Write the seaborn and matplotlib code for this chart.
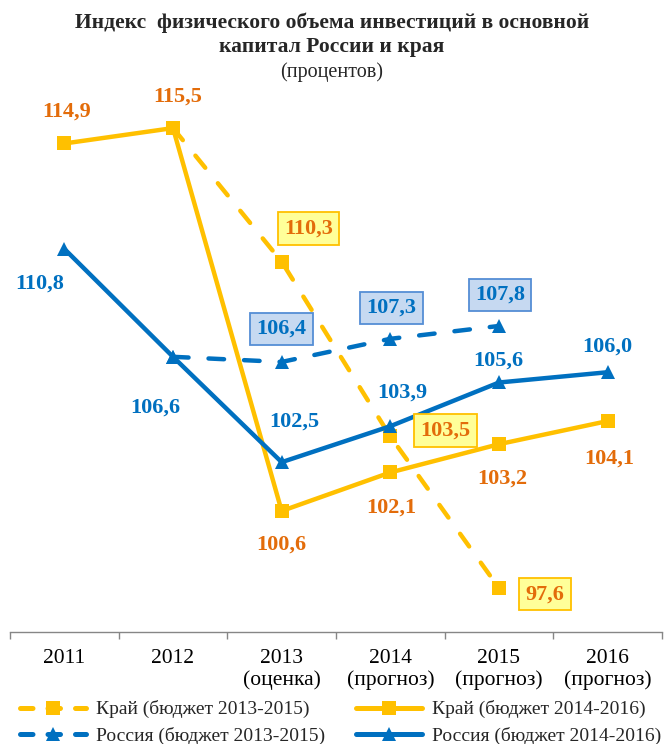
import numpy as np
import pandas as pd
import matplotlib
matplotlib.use('Agg')
import matplotlib.pyplot as plt
import seaborn as sns
from matplotlib.lines import Line2D

years = ['2011', '2012', '2013\n(оценка)', '2014\n(прогноз)', '2015\n(прогноз)', '2016\n(прогноз)']

kray_1416 = [114.9, 115.5, 100.6, 102.1, 103.2, 104.1]
kray_1315 = [np.nan, 115.5, 110.3, 103.5, 97.6, np.nan]
russia_1416 = [110.8, 106.6, 102.5, 103.9, 105.6, 106.0]
russia_1315 = [np.nan, 106.6, 106.4, 107.3, 107.8, np.nan]

YELLOW = '#FFC000'
BLUE = '#0070C0'
ORANGE_TXT = '#E36C0A'

sns.set_style('white')
plt.rcParams['font.family'] = ['Liberation Serif', 'DejaVu Serif']

df = pd.DataFrame({'x': range(len(years)),
                   'kray_1416': kray_1416, 'kray_1315': kray_1315,
                   'russia_1416': russia_1416, 'russia_1315': russia_1315})

fig = plt.figure(figsize=(6.64, 7.44), dpi=100)
# axes in pixel terms: x 10..662, y 80..632 (from top)
W, H = 664, 744
ax = fig.add_axes([10 / W, (H - 632) / H, 652 / W, 552 / H])

# scale: 25.7 px per unit, 100.6 at y=511
ppu = 25.7
ymin = 100.6 - (632 - 511) / ppu
ymax = 100.6 + (511 - 80) / ppu

DASH = (3.5, 4.5)
series = [
    ('kray_1315', YELLOW, 's', True),
    ('russia_1315', BLUE, '^', True),
    ('kray_1416', YELLOW, 's', False),
    ('russia_1416', BLUE, '^', False),
]
for col, color, mk, dashed in series:
    d = df.dropna(subset=[col])
    kw = dict(dashes=DASH, dash_capstyle='round') if dashed else dict(solid_capstyle='butt')
    sns.lineplot(data=d, x='x', y=col, ax=ax, color=color, marker=mk,
                 markersize=10, markeredgewidth=0, linewidth=3.2, **kw)

ax.set_xlim(-0.5, len(years) - 0.5)
ax.set_ylim(ymin, ymax)
ax.set_xlabel('')
ax.set_ylabel('')
ax.set_yticks([])
ax.set_xticks(range(len(years)))
ax.set_xticklabels(years, fontsize=15.5, color='black', linespacing=1.2)
ax.set_xticks(np.arange(-0.5, len(years)), minor=True)
ax.tick_params(axis='x', which='major', length=0, pad=12)
ax.tick_params(axis='x', which='minor', length=5, width=1, color='#868686', direction='out', bottom=True)
for s in ['top', 'left', 'right']:
    ax.spines[s].set_visible(False)
ax.spines['bottom'].set_color('#868686')
ax.spines['bottom'].set_linewidth(1)

px = 0.72
ybox = dict(boxstyle='square,pad=0.28', fc='#FFFF99', ec=YELLOW, lw=1.3)
bbox = dict(boxstyle='square,pad=0.28', fc='#C6D9F1', ec='#558ED5', lw=1.3)

def lab(i, v, dx, dy, color, box=None):
    ax.annotate(f'{v:.1f}'.replace('.', ','), (i, v), xytext=(dx * px, dy * px),
                textcoords='offset points', ha='center', va='center',
                fontsize=16, fontweight='bold', color=color, bbox=box)

kray_off = [(2, 32), (5, 31), (0, -34), (1, -35), (3, -34), (2, -38)]
for i, (v, o) in enumerate(zip(kray_1416, kray_off)):
    lab(i, v, o[0], o[1], ORANGE_TXT)
kray13_off = {2: (27, 33), 3: (55, 6), 4: (46, -6)}
for i, o in kray13_off.items():
    lab(i, kray_1315[i], o[0], o[1], ORANGE_TXT, ybox)
rus_off = [(-25, -35), (-18, -51), (13, 41), (12, 34), (-1, 22), (0, 26)]
for i, (v, o) in enumerate(zip(russia_1416, rus_off)):
    lab(i, v, o[0], o[1], BLUE)
rus13_off = {2: (0, 33), 3: (1, 31), 4: (1, 31)}
for i, o in rus13_off.items():
    lab(i, russia_1315[i], o[0], o[1], BLUE, bbox)

fig.text(0.5, 1 - 23 / H, 'Индекс  физического объема инвестиций в основной',
         ha='center', va='center', fontsize=15.5, fontweight='bold')
fig.text(0.5, 1 - 47 / H, 'капитал России и края',
         ha='center', va='center', fontsize=15.5, fontweight='bold')
fig.text(0.5, 1 - 72 / H, '(процентов)', ha='center', va='center', fontsize=14.5)

hkw = dict(lw=3.6, markersize=10, markeredgewidth=0)
handles = [
    Line2D([], [], color=YELLOW, dashes=(2.5, 3), dash_capstyle='round', marker='s', **hkw),
    Line2D([], [], color=BLUE, dashes=(2.5, 3), dash_capstyle='round', marker='^', **hkw),
    Line2D([], [], color=YELLOW, solid_capstyle='round', marker='s', **hkw),
    Line2D([], [], color=BLUE, solid_capstyle='round', marker='^', **hkw),
]
labels = ['Край (бюджет 2013-2015)', 'Россия (бюджет 2013-2015)',
          'Край (бюджет 2014-2016)', 'Россия (бюджет 2014-2016)']
fig.legend(handles, labels, loc='lower left', bbox_to_anchor=(12 / W, -9 / H), ncol=2,
           frameon=False, fontsize=14, handlelength=3.4, columnspacing=1.6,
           handletextpad=0.5, labelspacing=0.45, borderaxespad=0)

fig.savefig('out.png', dpi=100)
